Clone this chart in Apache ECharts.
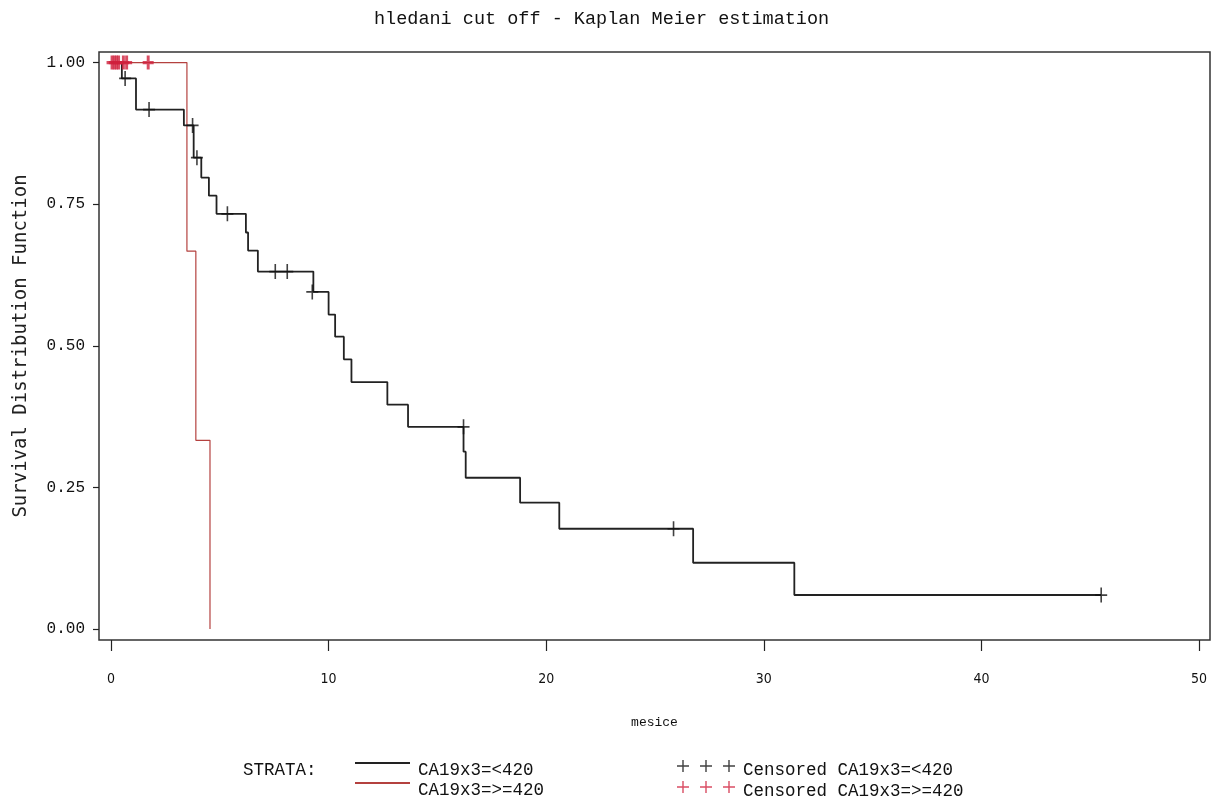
<!DOCTYPE html>
<html>
<head>
<meta charset="utf-8">
<script src="https://cdn.jsdelivr.net/npm/echarts@6/dist/echarts.min.js"></script>
<style>html,body{margin:0;padding:0;background:#fff;}#c{width:1219px;height:801px;}</style>
</head>
<body>
<div id="c"></div>
<script>
// Kaplan-Meier step points [time (months), survival]
const lowTimes  = [0, 0.5, 1.15, 3.35, 3.8, 4.15, 4.5, 4.85, 6.2, 6.3, 6.75, 9.3, 10.0, 10.3, 10.7, 11.05, 12.7, 13.65, 16.2, 16.3, 18.8, 20.6, 26.75, 31.4, 45.5];
const lowSurv   = [1, 0.972, 0.917, 0.889, 0.832, 0.797, 0.765, 0.733, 0.700, 0.668, 0.631, 0.595, 0.555, 0.516, 0.476, 0.436, 0.396, 0.357, 0.313, 0.267, 0.223, 0.177, 0.117, 0.060, 0.060];
const highTimes = [0, 3.49, 3.9, 4.55];
const highSurv  = [1, 0.667, 0.333, 0];
// censored observations
const lowCensTimes  = [0.65, 1.75, 3.75, 3.95, 5.35, 7.55, 8.1, 9.25, 16.2, 25.85, 45.5];
const lowCensSurv   = [0.972, 0.917, 0.889, 0.832, 0.733, 0.631, 0.631, 0.595, 0.357, 0.177, 0.060];
const highCensTimes = [0.05, 0.15, 0.25, 0.35, 0.57, 0.72, 1.71];
const highCensSurv  = [1, 1, 1, 1, 1, 1, 1];
const xTicks = [0, 10, 20, 30, 40, 50];
const yTicks = [0, 0.25, 0.5, 0.75, 1];
const legendNames = ['CA19x3=<420', 'CA19x3=>=420', 'Censored CA19x3=<420', 'Censored CA19x3=>=420'];

const zip = (a, b) => a.map((v, i) => [v, b[i]]);
const plus = 'path://M0,6.2H12V7.8H0Z M5.2,0H6.8V14H5.2Z';
const plusBold = 'path://M0,5.4H12V8.6H0Z M4.4,0H7.6V14H4.4Z';
const plus3 = 'path://M0,5.3H12V6.7H0Z M5.3,0H6.7V12H5.3Z M23,5.3H35V6.7H23Z M28.3,0H29.7V12H28.3Z M46,5.3H58V6.7H46Z M51.3,0H52.7V12H51.3Z';
const mono = "'Liberation Mono','DejaVu Sans Mono',monospace";
const narrow = "'DejaVu Sans Condensed','Liberation Sans Narrow','DejaVu Sans',sans-serif";
const RED_LINE = '#b4413f', RED_MARK = '#d0203c';

function oneLegend(name, icon, left, top, w, h, padTop) {
  return {
    data: [{name: name, icon: icon}], left: left, top: top, padding: 0,
    itemWidth: w, itemHeight: h, selectedMode: false,
    formatter: '{a|{name}}',
    textStyle: {fontFamily: mono, fontSize: 17.5, color: '#111',
      rich: {a: {fontFamily: mono, fontSize: 17.5, color: '#111', padding: [padTop, 0, 0, 3]}}}
  };
}

const chart = echarts.init(document.getElementById('c'));
chart.setOption({
  animation: false,
  backgroundColor: '#fff',
  title: {
    text: 'hledani cut off - Kaplan Meier estimation',
    left: 374, top: 10, padding: 0,
    textStyle: {fontFamily: mono, fontSize: 18.5, fontWeight: 'normal', color: '#111'}
  },
  grid: {left: 99, right: 9, top: 52, bottom: 161, outerBoundsMode: 'none', containLabel: false,
    show: true, borderColor: '#333', borderWidth: 1.5, backgroundColor: 'transparent'},
  xAxis: {
    type: 'value', min: -0.55, max: 50.5,
    name: 'mesice', nameLocation: 'middle', nameGap: 76,
    nameTextStyle: {fontFamily: mono, fontSize: 13, color: '#111'},
    axisLine: {show: false, onZero: false},
    axisTick: {show: true, inside: false, length: 11, customValues: xTicks, lineStyle: {color: '#222', width: 1.2}},
    axisLabel: {customValues: xTicks, margin: 32, fontFamily: narrow, fontSize: 14, color: '#111'},
    splitLine: {show: false}
  },
  yAxis: {
    type: 'value', min: -0.0194, max: 1.0186,
    name: 'Survival Distribution Function', nameLocation: 'middle', nameGap: 68, nameRotate: 90,
    nameTextStyle: {fontFamily: "'DejaVu Sans Mono',monospace", fontSize: 19, color: '#222'},
    axisLine: {show: false, onZero: false},
    axisTick: {show: true, inside: false, length: 6, customValues: yTicks, lineStyle: {color: '#222', width: 1.2}},
    axisLabel: {customValues: yTicks, margin: 14, fontFamily: mono, fontSize: 16, color: '#111',
      formatter: v => v.toFixed(2)},
    splitLine: {show: false}
  },
  legend: [
    oneLegend(legendNames[0], 'rect', 355, 761, 55, 2, 14),
    oneLegend(legendNames[1], 'rect', 355, 781, 55, 2, 14),
    oneLegend(legendNames[2], plus3, 677, 760, 58, 12, 8),
    oneLegend(legendNames[3], plus3, 677, 781, 58, 12, 8)
  ],
  graphic: [{
    type: 'text', left: 243, top: 761,
    style: {text: 'STRATA:', font: "17.5px 'Liberation Mono','DejaVu Sans Mono',monospace", fill: '#111'}
  }],
  series: [
    {
      name: legendNames[1], type: 'line', step: 'end', data: zip(highTimes, highSurv),
      showSymbol: false, lineStyle: {color: RED_LINE, width: 1.2}, itemStyle: {color: RED_LINE}, z: 2
    },
    {
      name: legendNames[0], type: 'line', step: 'end', data: zip(lowTimes, lowSurv),
      showSymbol: false, lineStyle: {color: '#222', width: 1.8}, itemStyle: {color: '#222'}, z: 3
    },
    {
      name: legendNames[2], type: 'scatter', data: zip(lowCensTimes, lowCensSurv),
      symbol: plus, symbolSize: [12, 15], itemStyle: {color: '#111'}, z: 4
    },
    {
      name: legendNames[3], type: 'scatter', data: zip(highCensTimes, highCensSurv),
      symbol: plusBold, symbolSize: [11, 14], itemStyle: {color: RED_MARK}, z: 5
    }
  ]
});
</script>
</body>
</html>
